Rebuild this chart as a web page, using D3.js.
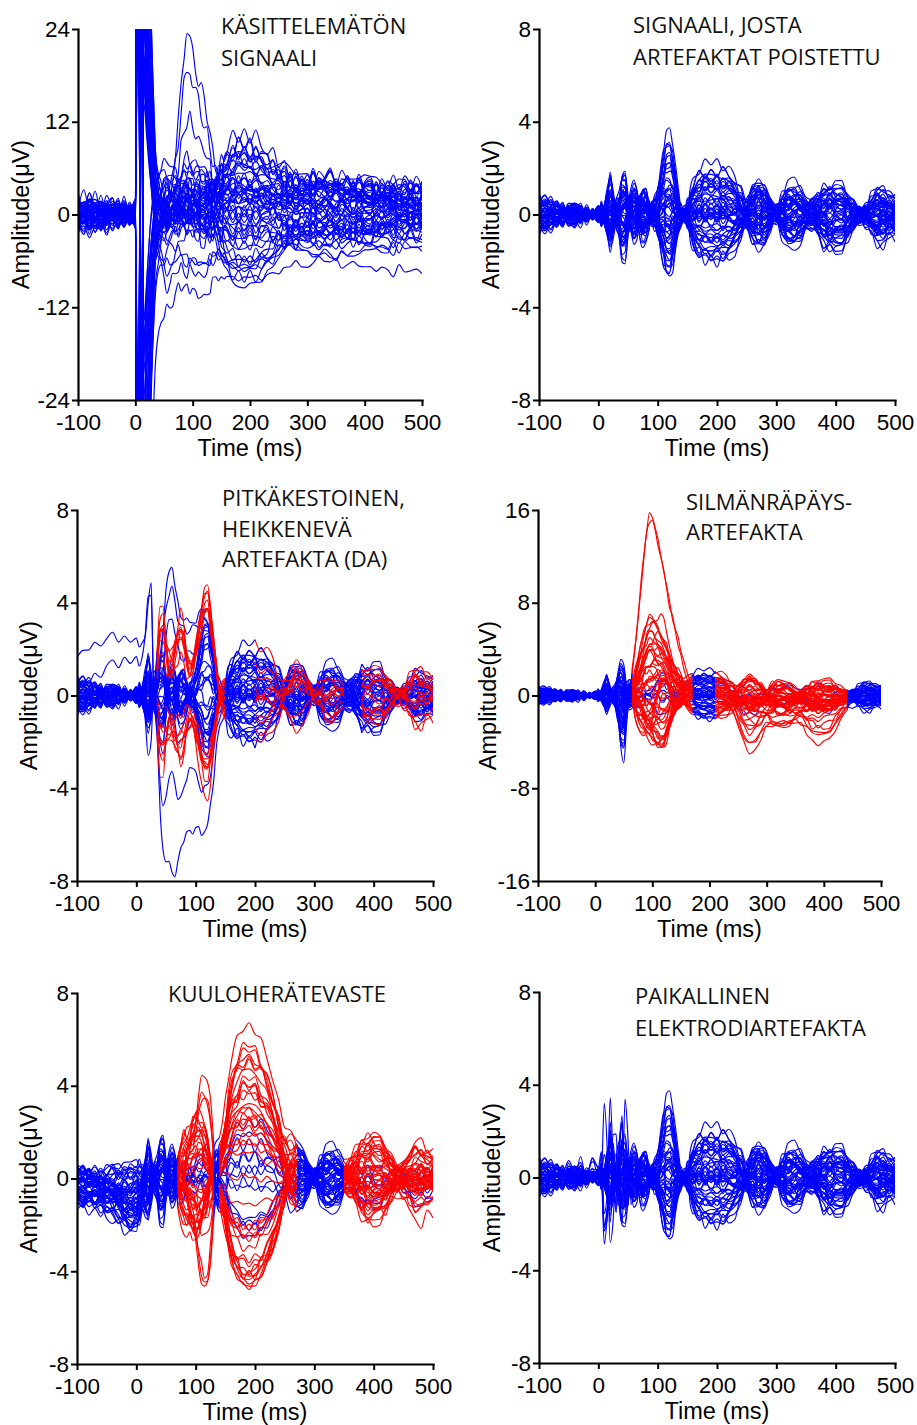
<!DOCTYPE html>
<html><head><meta charset="utf-8">
<script src="https://cdn.jsdelivr.net/npm/d3@7"></script>
<style>
html,body{margin:0;padding:0;background:#fff;}
svg{display:block;}
.axis-title{font-family:"Liberation Sans",Arial,sans-serif;font-size:23.5px;fill:#000;}
.panel-title{font-family:"Open Sans",sans-serif;font-size:22px;fill:#111;}
</style></head><body>
<svg id="fig" width="917" height="1425"></svg>
<script>
// ---- sampling grid (ms) ----
const TIME = [-100,-90,-80,-70,-60,-50,-40,-30,-20,-10,0,
  5,10,15,20,25,30,35,40,45,50,55,60,65,70,75,80,85,90,95,100,105,110,115,120,125,130,135,140,145,150,155,160,
  170,180,190,200,210,220,230,240,250,260,270,280,290,300,310,320,330,340,350,360,370,380,390,400,410,420,430,440,450,460,470,480,490,500];
const X_TICKS = [-100,0,100,200,300,400,500];

// ---- cortical response components (unit time courses, zero where not listed) ----
const EARLY = {10:0.05,15:0.45,20:0.85,25:0.35,30:-0.15,35:-0.35,40:-0.9,45:-0.9,50:-0.2,55:0.35,60:0.6,65:0.3,70:-0.25,75:-0.55,80:-0.45,85:-0.15,90:0.1,95:0.05};
const P120 = {90:0.05,95:0.12,100:0.3,105:0.55,110:0.8,115:0.97,120:1.0,125:0.85,130:0.55,135:0.25,140:0.05,145:-0.05};
const P200 = {145:0.03,150:0.15,155:0.45,160:0.7,170:0.9,180:0.97,190:1.0,200:1.0,210:0.97,220:0.9,230:0.75,240:0.45,250:0.1};
const LATE1 = {240:0.02,250:0.3,260:0.8,270:1.0,280:0.85,290:0.45,300:0.05};
const LATE2 = {300:0.1,310:0.6,320:0.95,330:1.0,340:0.7,350:0.2};
const LATE3 = {360:0.1,370:0.5,380:0.85,390:1.0,400:1.0,410:0.95,420:0.75,430:0.4,440:0.1};
const LATE4 = {450:0.15,460:0.65,470:1.0,480:0.9,490:0.65,500:0.5};
// slow drifts and background activity, one value per sample
const DRIFT_A = [0.84,0.98,0.77,0.42,0.0,-0.42,-0.7,-0.63,-0.42,0.0,0.28,
  0.35,0.42,0.42,0.42,0.35,0.28,0.14,0.0,-0.14,-0.28,-0.42,-0.49,-0.56,-0.56,-0.49,-0.42,-0.28,-0.14,0.0,0.14,0.28,0.42,0.49,0.56,0.56,0.49,0.42,0.28,0.14,0.0,-0.14,-0.28,
  -0.49,-0.63,-0.7,-0.63,-0.49,-0.28,0.0,0.28,0.49,0.63,0.7,0.56,0.42,0.14,-0.14,-0.42,-0.63,-0.7,-0.56,-0.42,-0.14,0.14,0.42,0.63,0.7,0.63,0.42,0.14,-0.14,-0.42,-0.56,-0.7,-0.56,-0.42];
const DRIFT_B = [-1.17,-1.24,-1.1,-1.04,-0.85,-0.65,-0.46,-0.13,0.13,0.39,0.59,
  0.72,0.85,0.91,1.04,1.1,1.17,1.24,1.3,1.3,1.3,1.3,1.24,1.24,1.17,1.1,1.04,0.98,0.85,0.78,0.65,0.52,0.39,0.26,0.13,0.0,-0.13,-0.26,-0.39,-0.52,-0.65,-0.78,-0.85,
  -1.04,-1.17,-1.24,-1.3,-1.24,-1.17,-1.04,-0.85,-0.65,-0.39,-0.13,0.13,0.39,0.65,0.85,1.04,1.17,1.24,1.3,1.24,1.17,1.04,0.85,0.65,0.39,0.13,-0.13,-0.39,-0.65,-0.85,-1.04,-1.17,-1.24,-1.3];
const RIP_A = [0.4,-0.6,0.7,-0.3,0.5,-0.7,0.2,0.6,-0.5,0.3,-0.4,
  0.5,-0.2,-0.6,0.3,0.7,-0.1,-0.5,0.4,0.6,-0.3,-0.7,0.2,0.5,-0.4,0.1,0.6,-0.5,-0.2,0.7,0.3,-0.6,-0.3,0.5,0.2,-0.4,0.6,-0.1,-0.6,0.4,0.7,-0.3,-0.5,
  0.6,-0.4,0.3,-0.7,0.5,0.1,-0.6,0.4,-0.2,0.7,-0.5,0.2,-0.3,0.6,-0.6,0.3,0.5,-0.4,-0.1,0.7,-0.5,0.2,-0.7,0.4,0.6,-0.3,0.1,-0.6,0.5,-0.2,0.6,-0.5,0.3,-0.4];
const RIP_B = [-0.5,0.3,0.1,0.6,-0.4,0.2,0.7,-0.6,0.4,-0.2,0.5,
  -0.6,0.4,0.2,-0.7,0.5,0.6,-0.4,-0.2,0.5,0.7,-0.5,-0.1,0.6,0.3,-0.7,0.4,0.2,-0.6,0.5,-0.3,0.1,0.7,-0.4,-0.6,0.3,0.5,-0.7,0.2,0.6,-0.4,0.5,0.1,
  -0.5,0.7,-0.2,0.4,-0.6,0.6,0.2,-0.5,0.5,-0.3,0.6,-0.7,0.4,-0.1,0.5,-0.6,0.2,0.6,-0.5,0.3,0.4,-0.6,0.5,-0.2,-0.5,0.6,-0.4,0.3,0.7,-0.6,0.1,0.5,-0.4,0.6];

// channel weights: [early, p120, p200, late1, late2, late3, late4, driftA, driftB, ripA, ripB]
const CLEAN_WEIGHTS = [
  [2.1,3.5,1.2,0.9,-0.8,0.6,0.5,0.3,-0.2,0.2,-0.1],
  [1.8,3.2,1.5,1.1,-0.6,0.8,0.7,-0.2,0.3,-0.2,0.2],
  [1.5,2.9,1.8,1.4,-0.3,1.0,0.9,0.1,0.2,0.3,0.1],
  [1.2,2.6,1.9,1.2,0.2,0.9,0.8,-0.3,-0.1,-0.1,0.3],
  [1.0,2.3,1.6,0.8,0.5,0.7,0.6,0.2,-0.3,0.25,-0.2],
  [0.8,2.0,1.4,0.5,0.8,0.4,0.4,-0.1,0.35,-0.3,0.1],
  [0.6,1.8,1.1,0.2,1.0,0.2,0.2,0.4,0.1,0.1,-0.3],
  [0.4,1.5,0.9,-0.1,0.9,-0.1,0.0,-0.4,-0.2,-0.2,0.2],
  [0.3,1.3,0.7,-0.3,0.7,-0.3,-0.2,0.2,0.3,0.3,0.0],
  [0.2,1.1,0.5,-0.5,0.6,-0.5,-0.3,-0.2,-0.3,0.0,0.3],
  [0.1,0.9,0.3,-0.7,0.4,-0.7,-0.4,0.3,0.1,-0.25,-0.1],
  [0.0,0.7,0.1,-0.9,0.2,-0.9,-0.5,-0.1,0.2,0.2,-0.25],
  [-0.1,0.5,-0.1,-1.1,0.0,-1.1,-0.6,0.1,-0.35,-0.1,0.25],
  [-0.2,0.4,-0.3,-1.3,-0.2,-1.3,-0.7,-0.3,0.0,0.3,0.05],
  [-0.3,0.3,-0.5,-1.0,-0.4,-1.0,-0.9,0.2,0.25,-0.3,-0.2],
  [-0.4,0.2,-0.7,-0.8,-0.6,-0.8,-0.8,-0.2,-0.1,0.1,0.3],
  [-0.5,0.1,-0.9,-0.6,-0.8,-0.6,-0.6,0.35,0.2,-0.15,-0.3],
  [-0.6,0.0,-1.1,-0.4,-1.0,-0.4,-0.4,-0.35,-0.25,0.25,0.1],
  [-0.7,-0.1,-1.3,-0.2,-1.2,-0.2,-0.2,0.1,0.3,-0.2,0.2],
  [-0.8,-0.3,-1.5,0.0,-1.3,0.0,0.0,-0.1,-0.3,0.15,-0.15],
  [-0.9,-0.5,-1.7,0.2,-1.1,0.2,0.2,0.25,0.05,-0.05,0.25],
  [-1.0,-0.7,-1.9,0.4,-0.9,0.4,0.3,-0.25,0.15,0.3,-0.3],
  [-1.1,-0.9,-1.8,0.6,-0.7,0.6,0.5,0.15,-0.2,-0.3,0.0],
  [-1.2,-1.1,-1.6,0.8,-0.5,0.8,0.6,-0.15,0.35,0.05,0.2],
  [-1.3,-1.3,-1.4,1.0,-0.3,1.0,0.7,0.3,-0.05,-0.2,-0.2],
  [-1.4,-1.5,-1.2,1.2,-0.1,0.9,0.8,-0.3,0.2,0.2,0.15],
  [-1.5,-1.7,-1.0,1.3,0.1,0.7,0.9,0.05,-0.3,-0.1,-0.3],
  [-1.6,-1.9,-0.8,1.1,0.3,0.5,0.7,-0.05,0.1,0.3,0.2],
  [-1.4,-2.1,-0.6,0.9,0.5,0.3,0.5,0.2,0.3,-0.25,0.0],
  [-1.2,-2.3,-0.4,0.7,0.7,0.1,0.3,-0.2,-0.15,0.1,-0.25],
  [-1.0,-2.5,-0.2,0.5,0.9,-0.1,0.1,0.35,0.0,-0.3,0.3],
  [-0.8,-2.6,0.0,0.3,1.0,-0.3,-0.1,-0.35,0.25,0.25,-0.1],
  [0.5,-2.0,0.2,0.1,0.8,-0.5,-0.3,0.0,-0.25,-0.05,0.3],
  [0.7,-1.6,0.4,-0.1,0.6,-0.7,-0.5,0.3,0.15,0.2,-0.2],
  [0.9,-1.2,0.6,-0.3,0.4,-0.9,-0.7,-0.3,-0.05,-0.2,0.1],
  [1.1,-0.8,0.8,-0.5,0.2,-1.1,-0.9,0.1,0.3,0.3,-0.3],
  [1.3,-0.4,1.0,-0.7,0.0,-1.3,-0.8,-0.1,-0.3,-0.3,0.2],
  [1.5,0.6,1.3,-0.9,-0.2,-1.2,-0.6,0.2,0.0,0.1,-0.1],
  [1.7,1.0,1.6,-1.1,-0.4,-1.0,-0.4,-0.25,0.2,-0.1,0.3],
  [1.9,2.4,1.75,-1.2,-0.6,-0.8,-0.2,0.25,-0.2,0.2,-0.2],
  [0.9,1.6,1.0,0.6,-0.5,0.5,0.3,-0.3,0.3,0.15,0.2],
  [-0.5,-1.0,-1.2,-0.6,0.5,-0.6,-0.4,0.3,-0.3,-0.2,0.1],
  [0.4,0.8,0.6,0.9,0.3,0.7,0.5,0.2,0.35,0.1,-0.2],
  [-0.3,-0.6,-0.6,-0.9,-0.6,-0.4,0.6,-0.35,-0.2,0.25,0.15],
  [1.2,2.2,0.3,0.3,-1.0,0.2,-0.5,0.1,0.1,-0.25,0.3],
  [-1.1,-1.8,0.9,-0.3,0.7,-0.8,0.4,-0.1,0.25,0.3,-0.1],
  [0.2,0.4,-1.5,0.5,1.1,0.9,-0.7,0.4,-0.15,-0.1,-0.3],
  [-0.2,-0.3,1.5,-1.0,-0.9,-1.0,0.2,-0.4,0.05,0.2,0.25],
  [0.6,1.2,-0.4,1.2,-0.2,0.3,0.8,0.25,-0.35,-0.3,-0.05],
  [-0.6,-1.4,0.5,-1.2,0.2,-0.2,-0.8,-0.25,0.3,0.05,0.3],
  [1.4,2.8,1.7,-0.2,0.4,1.1,-0.3,0.15,0.2,0.2,-0.25],
  [-1.3,-2.2,-1.6,0.1,-0.4,-1.2,0.3,-0.2,-0.25,-0.15,0.2],
  [0.1,0.2,0.0,0.0,0.0,0.0,0.0,0.35,-0.3,0.3,-0.3],
  [0.0,-0.1,0.2,-0.2,0.1,0.2,-0.1,-0.3,0.35,-0.3,0.25],
  [0.8,-0.5,-0.8,0.7,-1.1,0.6,0.6,0.05,-0.1,0.25,0.1],
  [-0.7,0.6,0.8,-0.7,0.9,-0.7,-0.6,-0.05,0.15,-0.2,-0.2]
];

// ---- unprocessed recording: stimulation pulse with ringing, eye blink, sustained shift, decaying offset ----
const PULSE = {5:1,10:-0.7,15:0.5,20:0.32,25:0.2,30:0.12,35:0.055,40:0.025,45:0.01,50:0.004};
const BLINK_RAW = {55:0.02,60:0.08,65:0.2,70:0.38,75:0.58,80:0.78,85:0.93,90:1.0,95:0.98,100:0.88,105:0.76,110:0.65,115:0.56,120:0.48,125:0.42,130:0.36,135:0.3,140:0.25,145:0.2,150:0.16,155:0.13,160:0.1,170:0.06,180:0.03,190:0.01};
const SUSTAIN = {60:-0.05,65:-0.1,70:-0.15,75:-0.2,80:-0.25,85:-0.28,90:-0.3,95:-0.3,100:-0.3,105:-0.28,110:-0.25,115:-0.18,120:-0.1,125:0,130:0.1,135:0.2,140:0.32,145:0.46,150:0.58,155:0.68,160:0.77,170:0.9,180:0.98,190:1,200:0.97,210:0.92,220:0.86,230:0.8,240:0.74,250:0.68,260:0.63,270:0.58,280:0.54,290:0.51,300:0.49,310:0.48,320:0.47,330:0.46,340:0.46,350:0.45,360:0.45,370:0.44,380:0.44,390:0.44,400:0.43,410:0.43,420:0.43,430:0.43,440:0.42,450:0.42,460:0.42,470:0.42,480:0.42,490:0.42,500:0.42};
const DECAY = {5:1,10:1,15:1,20:1,25:1,30:1,35:1,40:1,45:0.98,50:0.95,55:0.9,60:0.86,65:0.82,70:0.79,75:0.76,80:0.74,85:0.72,90:0.7,95:0.68,100:0.66,105:0.64,110:0.62,115:0.61,120:0.6,125:0.59,130:0.58,135:0.57,140:0.56,145:0.55,150:0.55,155:0.54,160:0.54,170:0.53,180:0.53,190:0.52,200:0.52,210:0.52,220:0.51,230:0.51,240:0.51,250:0.51,260:0.5,270:0.5,280:0.5,290:0.5,300:0.5,310:0.5,320:0.5,330:0.5,340:0.5,350:0.5,360:0.5,370:0.5,380:0.5,390:0.5,400:0.5,410:0.5,420:0.5,430:0.5,440:0.5,450:0.5,460:0.5,470:0.5,480:0.5,490:0.5,500:0.5};
const PRE_LEVEL = {'-100':1,'-90':1,'-80':1,'-70':1,'-60':1,'-50':1,'-40':1,'-30':1,'-20':1,'-10':1,0:1,5:0.8,10:0.5,15:0.3,20:0.15,25:0.05};
const PRE_NOISE = {'-100':0.9,'-90':-0.6,'-80':1.0,'-70':-0.9,'-60':0.7,'-50':-1.0,'-40':0.8,'-30':-0.7,'-20':1.0,'-10':-0.8,0:0.5};
// [pulse, blink, sustain, decay, ripA, ripB, driftB, pre level, pre noise]
const RAW_WEIGHTS = [
  [160,23,2.0,0,0.9,-0.8,0.6,0.8,0.5],[-150,19,1.5,0,-1.0,0.8,-0.5,-0.6,-0.6],[140,13,3.0,-1.0,0.8,1.0,0.4,0.3,0.6],[-130,8,4.0,0,-0.8,-1.0,0.7,-1.0,-0.4],
  [120,7.5,5.0,0,1.0,0.6,-0.6,0.5,-0.6],[-110,7,6.0,0.5,-0.6,1.1,0.5,-0.2,0.5],[100,6.5,7.0,0,1.1,-0.6,-0.4,1.0,0.4],[-95,6,8.0,0,-1.1,0.4,0.3,-0.8,-0.5],
  [90,5,9.5,0,0.6,-1.1,-0.7,0.1,0.6],[-85,4.5,8.5,0,-1.0,1.0,0.6,-0.4,-0.6],[80,4,7.5,1.0,0.8,-0.8,-0.3,0.7,-0.5],[-75,3.5,6.5,0,-0.8,0.6,0.4,-0.9,0.4],
  [70,3,5.5,0,1.1,0.8,-0.5,0.4,0.6],[-65,2.5,4.5,2.0,-0.6,-1.1,0.7,-0.1,-0.5],[60,2,3.5,0,1.0,1.0,-0.6,0.9,-0.4],[-55,1.5,2.5,3.0,-1.1,-0.4,0.5,-0.7,0.6],
  [50,1,1.5,0,0.6,1.1,-0.4,0.2,-0.6],[-45,0.5,0.5,4.0,-1.0,-1.0,0.3,-0.5,0.5],[40,0,-0.5,0,0.8,0.6,-0.7,0.6,0.4],[-38,-0.5,-1.5,5.0,-0.8,0.8,0.6,-0.3,-0.6],
  [36,-1,-2.5,0,1.1,-0.6,-0.5,1.0,-0.5],[-34,-1.5,-3.5,0,-0.6,1.0,0.4,-1.0,0.5],[32,-2,-4.5,0,1.0,-1.1,-0.3,0.0,0.6],[-30,-2.5,-5.5,0,-1.1,0.4,0.7,0.5,-0.4],
  [45,-3,-6.5,0,0.6,1.1,-0.6,-0.6,0.4],[-60,-3,-7.5,0,-1.0,-0.8,0.5,0.8,0.6],[75,-2,-3.0,-6.5,0.8,0.6,-0.4,-0.2,-0.6],[-90,-1.5,-2.0,-7.0,-0.8,-1.0,0.3,0.3,0.5],
  [105,-1,-1.0,-9.0,1.1,0.8,-0.7,-0.8,-0.4],[-125,0,0,-14.0,-0.6,-0.6,0.6,0.6,0.6],[145,1,1.0,1.5,1.0,1.0,-0.5,-0.4,-0.5],[-155,2,2.5,2.5,-1.1,-1.1,0.4,0.9,0.4],
  [58,3,3.5,-3.0,0.6,0.4,-0.3,-0.9,-0.6],[-48,0.5,0.8,6.0,-1.0,1.1,0.7,0.1,0.5],[42,1.2,-0.8,-2.0,0.8,-0.8,-0.6,-0.5,0.6],[-52,-0.8,1.8,3.5,-0.8,0.6,0.5,0.7,-0.4],
  [62,2.2,2.8,-4.5,1.1,-1.0,-0.4,-0.3,-0.6],[-68,1.8,-1.2,4.5,-0.6,0.8,0.3,0.4,0.5],[85,0.8,0.3,-1.5,1.0,-0.4,-0.7,-0.7,0.4],[-100,-0.3,-2.0,2.0,-1.1,1.0,0.6,0.2,-0.5],
  [115,2.8,4.2,0.8,0.9,-0.9,0.5,-0.1,0.6],[-115,-1.2,-2.0,1.2,-0.7,0.8,-0.6,0.6,-0.6],[95,1.6,5.2,-0.5,1.0,0.6,0.4,-0.6,0.5],[-88,0.6,-3.8,0.5,-0.9,-0.7,-0.5,0.8,0.4],
  [78,3.8,6.8,0,0.7,1.0,0.6,-0.8,-0.5],[-72,-0.4,-5.0,-1.0,-1.0,-0.6,-0.4,0.3,0.6],[66,1.0,2.2,1.8,0.9,-1.0,0.7,-0.2,-0.4],[-58,-1.8,-6.0,1.5,-0.6,0.9,-0.7,0.5,0.5],
  [54,4.5,7.8,-0.8,1.0,-0.4,0.3,-0.4,-0.6],[-47,0.2,-1.0,-3.5,-0.9,1.0,-0.3,0.9,0.4],[44,2.6,3.2,-2.5,0.6,0.7,0.6,-1.0,0.6],[-40,-0.6,0.0,2.8,-1.0,-0.9,-0.6,0.0,-0.5],
  [35,1.4,1.2,-1.2,0.7,-0.6,0.5,0.7,0.4],[-33,-2.2,-4.0,0.3,-0.7,0.6,-0.5,-0.5,-0.6],[70,5.5,8.8,0.5,0.9,0.9,0.4,0.2,0.5],[-80,0.9,-2.8,-0.4,-0.9,-1.0,-0.4,-0.9,-0.4]
];

// ---- long-lasting decaying artifact (DA) ----
const DA_OSC = {30:0.0,35:0.5,40:0.95,45:1.0,50:0.8,55:0.6,60:0.62,65:0.8,70:0.95,75:1.0,80:0.85,85:0.6,90:0.45,95:0.5,100:0.75,105:1.05,110:1.35,115:1.55,120:1.6,125:1.35,130:0.9,135:0.45,140:0.1,145:-0.15,150:-0.25,155:-0.2,160:-0.1};
const DA_SLOW = {30:0.05,35:0.3,40:0.8,45:1.0,50:0.96,55:0.9,60:0.88,65:0.93,70:0.97,75:0.96,80:0.87,85:0.8,90:0.76,95:0.73,100:0.71,105:0.68,110:0.67,115:0.63,120:0.6,125:0.5,130:0.4,135:0.29,140:0.2,145:0.13,150:0.08,155:0.04,160:0.01,170:-0.01};
const DA_RISE = {35:0.1,40:0.35,45:0.6,50:0.85,55:0.97,60:1.0,65:0.85,70:0.75,75:0.7,80:0.65,85:0.62,90:0.6,95:0.58,100:0.55,105:0.52,110:0.48,115:0.42,120:0.38,125:0.3,130:0.22,135:0.15,140:0.1,145:0.05,150:0.02};
const DA_SPIKE = {15:0.15,20:0.7,25:1.0,30:-0.35,35:-0.15};
const DA_DRIFT = {'-100':1.0,'-90':1.05,'-80':1.1,'-70':1.18,'-60':1.25,'-50':1.32,'-40':1.4,'-30':1.45,'-20':1.5,'-10':1.55,0:1.6,5:1.6,10:1.55,15:1.4,20:1.2,25:0.9,30:0.5,35:0.2,40:0.05};
// channel -> [osc, slow, rise, spike, drift]
const DA_WEIGHTS = {
  13:[2.6,0,0,0,0],14:[2.5,0,0,0,0],15:[2.4,0,0,0,0],19:[2.5,0,0,0,0],20:[2.6,0,0,0,0],21:[2.7,0,0,0,0],42:[2.3,0,0,0,0],52:[2.2,0,0,0,0],
  10:[-2.6,0,0,0,0],11:[-2.4,0,0,0,0],12:[-2.2,0,0,0,0],16:[-2.0,0,0,0,0],17:[-1.8,0,0,0,0],18:[-1.5,0,0,0,0],36:[-1.9,0,0,0,0],43:[-2.3,0,0,0,0],
  24:[0,-7.5,0,0,0],33:[0,-4.3,0,0,0],35:[0,-1.9,0,-1.2,0],
  7:[0,0,5.4,0,0],8:[0,0,4.2,0,0],5:[0,0,2.4,0,0],
  9:[0,0,0,3.6,1.6],38:[0,0,0,2.7,0.9],27:[0,0,0,-1.8,0]
};

// ---- eye blink artifact ----
const BLINK = {65:0.15,70:0.27,75:0.42,80:0.6,85:0.77,90:0.92,95:1.0,100:0.99,105:0.93,110:0.85,115:0.77,120:0.69,125:0.6,130:0.51,135:0.44,140:0.37,145:0.31,150:0.25,155:0.2,160:0.16,170:0.08,180:0.03,190:0.01};
const LATE_DIP = {220:0.02,230:0.1,240:0.3,250:0.6,260:0.85,270:1.0,280:1.0,290:0.9,300:0.8,310:0.72,320:0.68,330:0.68,340:0.7,350:0.72,360:0.75,370:0.78,380:0.8,390:0.8,400:0.75,410:0.7,420:0.55,430:0.4,440:0.28,450:0.15,460:0.06,470:0.02};
const EARLY_SPIKE = {35:0.05,40:0.25,45:0.8,50:1.0,55:0.45,60:0.08,65:-0.05};
// [blink, late dip, early spike]
const BLINK_WEIGHTS = [
  [-3.2,0.3,-1.0],[-2.8,-0.2,-1.5],[-2.4,-2.4,-2.0],[-2.0,0.4,-2.5],[-1.5,-0.5,-3.0],[-0.9,-2.0,-3.5],[-0.3,0.2,-4.0],[0.2,-0.3,-4.5],
  [0.8,-2.6,-6.0],[1.6,0.5,-3.2],[2.5,-0.6,-2.8],[3.6,-2.2,-2.2],[4.6,0.1,-1.8],[5.4,-3.4,-1.4],[6.2,-3.2,-1.0],[15.6,-0.4,-0.6],
  [15.0,-0.2,0.0],[7.0,0.3,0.4],[6.6,-1.0,0.8],[5.8,-1.8,1.2],[5.0,0.4,1.6],[4.2,-0.3,2.0],[3.0,0.5,2.3],[2.0,-1.2,1.8],
  [1.2,-1.5,1.4],[0.5,-1.0,1.0],[0.0,0.2,0.6],[-0.6,-1.4,0.2],[-1.2,0.3,-0.2],[-1.8,-0.7,-0.5],[-2.2,0.6,-0.9],[-2.6,-0.9,-1.3],
  [-3.0,0.2,-1.7],[-3.4,-1.1,-2.1],[-3.8,0.1,-2.6],[-1.0,-0.5,-0.3],[0.4,-1.6,0.3],[-0.5,0.3,-0.4],[1.0,-0.4,0.5],[-3.6,-0.2,-1.2],
  [3.3,-0.5,-1.6],[-1.4,0.4,0.6],[2.2,-1.5,-0.8],[-2.0,0.2,1.1],[4.0,-0.7,-2.4],[-3.0,-0.4,-0.7],[1.4,0.5,0.9],[-0.8,-2.8,-1.9],
  [2.8,0.3,-1.2],[-2.6,-1.3,0.5],[5.2,-0.2,-3.8],[-1.6,0.6,-0.2],[0.6,-0.8,0.3],[-0.2,0.1,-0.6],[3.8,-1.9,-2.9],[-2.9,0.4,-1.5]
];

// ---- auditory evoked response ----
const AEP_N1 = {70:0.05,75:0.12,80:0.25,85:0.38,90:0.52,95:0.65,100:0.77,105:0.88,110:0.97,115:1.0,120:0.88,125:0.55,130:0.18,135:-0.05,140:-0.1,145:-0.05};
const AEP_P2 = {135:0.05,140:0.2,145:0.4,150:0.55,155:0.68,160:0.78,170:0.9,180:0.98,190:1.0,200:0.95,210:0.86,220:0.74,230:0.6,240:0.45,250:0.3,260:0.17,270:0.08,280:0.02};
const AEP_LATE = {340:0.02,350:0.1,360:0.35,370:0.65,380:0.85,390:0.95,400:1.0,410:0.9,420:0.75,430:0.6,440:0.5,450:0.55,460:0.7,470:0.8,480:0.78,490:0.7,500:0.65};
const PRE_SHIFT = {'-100':0.3,'-90':0.35,'-80':0.4,'-70':0.45,'-60':0.5,'-50':0.55,'-40':0.65,'-30':0.75,'-20':0.9,'-10':1.0,0:0.95,5:0.8,10:0.6,15:0.4,20:0.2,25:0.1,30:0.03};
// [n1, p2, late, pre-stimulus shift]
const AEP_WEIGHTS = [
  [-4.8,5.4,0.85,-0.5],[-4.5,4.5,0.8,-1.0],[-4.2,3.8,0.7,0.3],[-3.9,3.3,0.65,-1.5],[-3.6,3.2,0.6,-0.8],[-3.3,3.0,0.55,-2.3],
  [-3.0,3.0,0.5,0.5],[-2.6,2.9,0.4,-1.2],[-2.2,2.8,0.35,-1.8],[-1.8,2.7,0.3,0.2],[-1.4,2.6,0.25,-0.6],[-1.0,2.5,0.2,-1.4],
  [-0.6,2.4,0.1,-2.0],[-0.2,2.3,0.05,0.4],[0.2,2.1,0.0,-0.9],[0.1,0.5,-0.05,-1.6],[-0.3,-0.3,-0.1,-0.3],[0.3,0.2,-0.2,-1.1],
  [0.6,-0.4,-0.25,-2.1],[1.0,-0.8,-0.3,0.1],[1.4,-1.8,-0.35,-0.7],[1.8,-2.2,-0.4,-1.3],[2.2,-2.4,-0.5,-1.9],[2.6,-2.6,-0.55,0.6],
  [3.0,-2.8,-0.6,-0.4],[3.4,-3.0,-0.7,-1.7],[3.7,-3.4,-0.85,-1.0],[4.0,-3.8,-0.95,-2.2],[4.3,-3.6,-1.15,0.0],[4.5,-2.9,-0.65,-1.5],
  [3.2,4.4,0.55,-0.2],[-2.0,-2.0,0.8,-1.2],[1.2,3.5,-0.55,-0.5],[-1.2,-2.4,0.35,-2.4],[2.0,1.0,0.6,-0.9],[-0.8,1.2,-0.8,-1.6],
  [0.4,-0.6,0.4,0.2],[-0.5,0.8,-0.5,-0.6],[2.8,-1.2,0.25,-1.3],[-3.4,0.6,-0.3,-0.4],
  [-2.4,2.2,0.5,-0.7],[2.0,-1.6,-0.45,-1.1],[-1.6,1.6,0.3,0.1],[1.5,-1.0,-0.3,-1.8],[2.4,0.8,0.45,-0.4],[-3.1,1.9,-0.2,-1.3],
  [0.8,-0.9,0.7,-0.2],[-1.2,3.0,-0.6,-2.0],[2.4,-2.0,0.2,-0.9],[-2.8,1.2,-0.4,0.3],[-3.9,3.8,0.35,-1.5],[3.8,-2.4,-0.5,-0.8],
  [0.5,0.3,0.1,-1.0],[-0.4,-0.2,-0.15,-0.5],[2.6,-1.8,0.65,-1.7],[-1.9,2.6,-0.7,0.2]
];

// ---- local electrode artifact ----
const LOCAL_A = {5:0.15,10:-0.55,15:-0.3,20:1.0,25:0.2,30:-0.55,35:0.15,40:0.65,45:-0.35,50:-0.45,55:0.05};
const LOCAL_B = {5:0.1,10:-1.0,15:-0.5,20:0.4,25:0.7,30:0.2,35:-0.4,40:-0.3,45:0.6,50:0.2,55:-0.2};
const LOCAL_PRE = {'-60':0.1,'-50':0.7,'-40':0.0,'-30':0.75,'-20':0.05,'-10':0.8,0:0.2,5:0.4};
// channel -> [localA, localB, pre]
const LOCAL_WEIGHTS = {
  14:[3.3,0,1.0],11:[2.4,-1.0,0.8],17:[2.0,0.8,0],12:[-1.8,1.2,0.6],18:[1.6,-1.5,0],
  20:[-1.5,3.2,0.5],9:[1.2,2.0,0],23:[-1.0,-2.4,0.7],16:[2.2,-0.6,0],13:[0.6,1.6,0.4]
};

// ---- helpers ----
const series = c => Array.isArray(c) ? c : TIME.map(t => c[t] ?? 0);
const mix = (comps, w) => TIME.map((_, i) => comps.reduce((s, c, k) => s + c[i] * (w[k] || 0), 0));
const add = (a, b) => a.map((v, i) => v + b[i]);

const cleanComps = [EARLY,P120,P200,LATE1,LATE2,LATE3,LATE4,DRIFT_A,DRIFT_B,RIP_A,RIP_B].map(series);
const clean = CLEAN_WEIGHTS.map(w => mix(cleanComps, w));

const rawComps = [PULSE,BLINK_RAW,SUSTAIN,DECAY,RIP_A,RIP_B,DRIFT_B,PRE_LEVEL,PRE_NOISE].map(series);
const raw = clean.map((c, ch) => add(c, mix(rawComps, RAW_WEIGHTS[ch])));

const daComps = [DA_OSC,DA_SLOW,DA_RISE,DA_SPIKE,DA_DRIFT].map(series);
const da = clean.map((c, ch) => DA_WEIGHTS[ch] ? add(c, mix(daComps, DA_WEIGHTS[ch])) : c);

const blinkComps = [BLINK,LATE_DIP,EARLY_SPIKE].map(series);
const blink = clean.map((c, ch) => add(c, mix(blinkComps, BLINK_WEIGHTS[ch])));

const aepComps = [AEP_N1,AEP_P2,AEP_LATE,PRE_SHIFT].map(series);
const aep = clean.map((c, ch) => add(c, mix(aepComps, AEP_WEIGHTS[ch])));

const localComps = [LOCAL_A,LOCAL_B,LOCAL_PRE].map(series);
const local = clean.map((c, ch) => LOCAL_WEIGHTS[ch] ? add(c, mix(localComps, LOCAL_WEIGHTS[ch])) : c);

// ---- figure layout ----
const PANELS = [
  {traces: raw, box:[78,422,29,400], yMax:24, yTicks:[-24,-12,0,12,24],
   title:["KÄSITTELEMÄTÖN","SIGNAALI"], tx:221, ty:34, gap:32, ylx:29, windows:[]},
  {traces: clean, box:[539,895,29,400], yMax:8, yTicks:[-8,-4,0,4,8],
   title:["SIGNAALI, JOSTA","ARTEFAKTAT POISTETTU"], tx:633, ty:33, gap:32, ylx:499, windows:[]},
  {traces: da, box:[77,433,510,881], yMax:8, yTicks:[-8,-4,0,4,8],
   title:["PITKÄKESTOINEN,","HEIKKENEVÄ","ARTEFAKTA (DA)"], tx:222, ty:506, gap:30.5, ylx:37,
   windows:[{from:35,to:150,red:[10,11,12,13,14,15,16,17,18,19,20,21,36,42,43,52]},
            {from:200,to:350,red:[1,3,13,14,22,23,28,29,40,44,48]},
            {from:380,to:500,red:[2,3,4,14,15,24,25,26,30,34,35,41,45,49,54]}]},
  {traces: blink, box:[538,881,510,881], yMax:16, yTicks:[-16,-8,0,8,16],
   title:["SILMÄNRÄPÄYS-","ARTEFAKTA"], tx:686, ty:510, gap:30, ylx:496,
   windows:[{from:65,to:170,blue:[6,7,26,36,37,52,53]},
            {from:210,to:440,blue:[9,17,22,37,38,53]}]},
  {traces: aep, box:[77,433,993,1364], yMax:8, yTicks:[-8,-4,0,4,8],
   title:["KUULOHERÄTEVASTE"], tx:168, ty:1002, gap:31, ylx:37,
   windows:[{from:70,to:130,blue:[12,13,14,15,16,17,18,36,37,46,52,53]},
            {from:140,to:270,blue:[16,17,18,19,35,36,37,38,39,44,46,52,53]},
            {from:350,to:500,blue:[15,16,17,18,36,52,53]}]},
  {traces: local, box:[539,895,992,1363], yMax:8, yTicks:[-8,-4,0,4,8],
   title:["PAIKALLINEN","ELEKTRODIARTEFAKTA"], tx:635, ty:1004, gap:31.5, ylx:500, windows:[]}
];

const BLUE = "#0000ff", RED = "#ff0000";
const svg = d3.select("#fig");

// split a channel into colour segments; flagged windows are drawn red
function segmentsFor(values, windows, ch) {
  const cuts = [0];
  windows.forEach(w => cuts.push(TIME.indexOf(w.from), TIME.indexOf(w.to)));
  cuts.push(TIME.length - 1);
  const segs = [];
  for (let k = 0; k < cuts.length - 1; k++) {
    const a = cuts[k], b = cuts[k + 1];
    if (b <= a) continue;
    const w = k % 2 === 1 ? windows[(k - 1) / 2] : null;
    let red = false;
    if (w) red = w.red ? w.red.includes(ch) : !w.blue.includes(ch);
    segs.push({red, pts: d3.range(a, b + 1).map(i => ({t: TIME[i], v: values[i]}))});
  }
  return segs;
}

function styleAxis(sel) {
  sel.attr("font-family", null).attr("font-size", null);
  sel.select(".domain").attr("stroke", "#000").attr("stroke-width", 2.2).attr("stroke-linecap", "square");
  sel.selectAll(".tick line").attr("stroke", "#000").attr("stroke-width", 2);
  sel.selectAll(".tick text").attr("fill", "#000")
    .style("font-family", '"Liberation Sans", Arial, sans-serif').style("font-size", "22.5px");
}

PANELS.forEach((p, pi) => {
  const [x0, x1, y0, y1] = p.box;
  const x = d3.scaleLinear().domain([-100, 500]).range([x0, x1]);
  const y = d3.scaleLinear().domain([-p.yMax, p.yMax]).range([y1, y0]);
  const clipId = "plot-clip-" + pi;
  svg.append("clipPath").attr("id", clipId).append("rect")
    .attr("x", x0).attr("y", y0).attr("width", x1 - x0).attr("height", y1 - y0);

  const line = d3.line().x(d => x(d.t)).y(d => y(d.v)).curve(d3.curveMonotoneX);
  const segs = [];
  p.traces.forEach((vals, ch) => segs.push(...segmentsFor(vals, p.windows, ch)));

  const plot = svg.append("g").attr("clip-path", `url(#${clipId})`)
    .attr("fill", "none").attr("stroke-width", 1.15).attr("stroke-linejoin", "round");
  plot.selectAll("path.b").data(segs.filter(s => !s.red)).join("path")
    .attr("class", "b").attr("stroke", BLUE).attr("d", s => line(s.pts));
  plot.selectAll("path.r").data(segs.filter(s => s.red)).join("path")
    .attr("class", "r").attr("stroke", RED).attr("d", s => line(s.pts));

  svg.append("g").attr("transform", `translate(0,${y1})`)
    .call(d3.axisBottom(x).tickValues(X_TICKS).tickFormat(d => String(d)).tickSize(6).tickSizeOuter(0).tickPadding(8))
    .call(styleAxis);
  svg.append("g").attr("transform", `translate(${x0},0)`)
    .call(d3.axisLeft(y).tickValues(p.yTicks).tickFormat(d => String(d)).tickSize(6).tickSizeOuter(0).tickPadding(2))
    .call(styleAxis);

  svg.append("text").attr("class", "axis-title").attr("text-anchor", "middle")
    .attr("x", (x0 + x1) / 2).attr("y", y1 + 56).text("Time (ms)");
  svg.append("text").attr("class", "axis-title").attr("text-anchor", "middle")
    .attr("transform", `translate(${p.ylx},${(y0 + y1) / 2}) rotate(-90)`).text("Amplitude(μV)");

  p.title.forEach((t, i) => svg.append("text").attr("class", "panel-title")
    .attr("x", p.tx).attr("y", p.ty + i * p.gap).text(t));
});
</script></body></html>
